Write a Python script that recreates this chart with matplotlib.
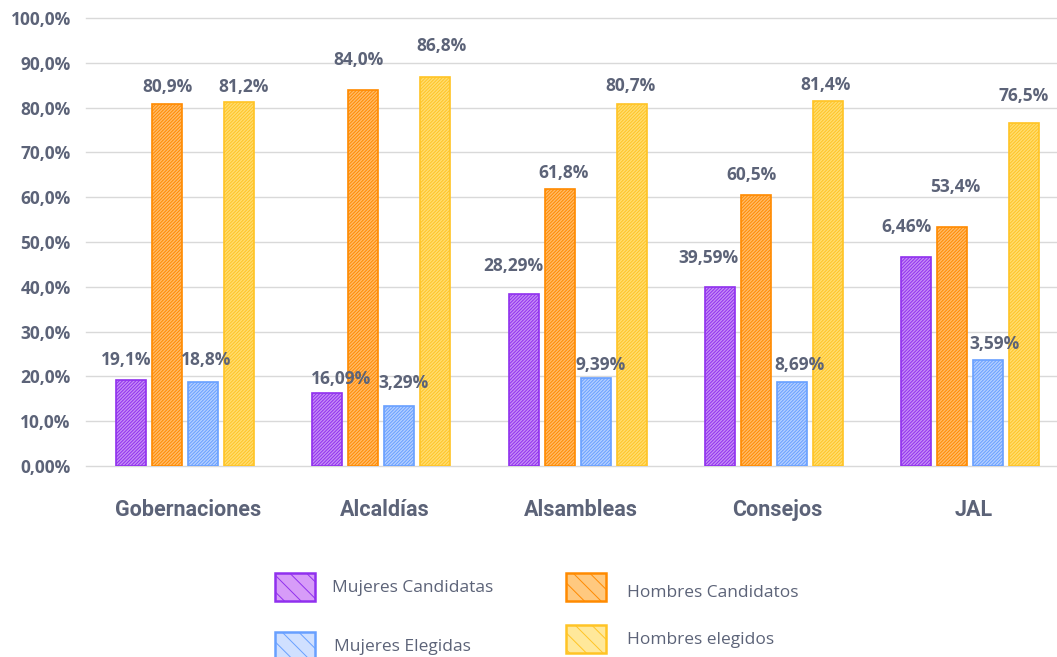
import matplotlib
matplotlib.use("Agg")
import matplotlib.pyplot as plt
from matplotlib.patches import Rectangle
import numpy as np

# ---------------- data ----------------
categories = ["Gobernaciones", "Alcaldías", "Alsambleas", "Consejos", "JAL"]
series_names = ["Mujeres Candidatas", "Hombres Candidatos", "Mujeres Elegidas", "Hombres elegidos"]
mujeres_candidatas = [19.2, 16.2, 38.4, 40.0, 46.7]
hombres_candidatos = [80.9, 84.0, 61.8, 60.6, 53.3]
mujeres_elegidas = [18.8, 13.4, 19.6, 18.8, 23.7]
hombres_elegidos = [81.3, 86.8, 80.8, 81.5, 76.6]

labels_mc = ["19,1%", "16,09%", "28,29%", "39,59%", "6,46%"]
labels_hc = ["80,9%", "84,0%", "61,8%", "60,5%", "53,4%"]
labels_me = ["18,8%", "3,29%", "9,39%", "8,69%", "3,59%"]
labels_he = ["81,2%", "86,8%", "80,7%", "81,4%", "76,5%"]

yticks = [0, 10, 20, 30, 40, 50, 60, 70, 80, 90, 100]
ytick_labels = ["0,00%", "10,0%", "20,0%", "30,0%", "40,0%", "50,0%",
                "60,0%", "70,0%", "80,0%", "90,0%", "100,0%"]

# ---------------- style ----------------
TXT = "#5c6378"
faces = ["#c58cf6", "#ffbb68", "#b3ceff", "#ffdd70"]
edges = ["#9030ee", "#ff8a00", "#68a0ff", "#ffc425"]
legend_faces = ["#d79cf8", "#ffc97f", "#d0e0ff", "#ffe89a"]

# label offsets in pixels (dx, dy) relative to bar top centre
off_mc = [(-5, 20), (14, 14), (-10, 28), (-11, 29), (-10, 30)]
off_hc = [(0, 17), (-5, 30), (4, 16), (-4, 20), (3, 40)]
off_me = [(3, 22), (4, 23), (5, 13), (8, 17), (6, 16)]
off_he = [(4, 15), (6, 31), (-1, 18), (-2, 16), (-1, 27)]

W, H = 1057, 657
fig = plt.figure(figsize=(W / 100, H / 100), dpi=100)
ax = fig.add_axes([86 / W, (H - 466) / H, (W - 86) / W, 448 / H])

x = np.arange(len(categories))
bw = 0.153
step = 0.1836
series = [mujeres_candidatas, hombres_candidatos, mujeres_elegidas, hombres_elegidos]
all_labels = [labels_mc, labels_hc, labels_me, labels_he]
all_offs = [off_mc, off_hc, off_me, off_he]

ax.set_ylim(0, 100)
ax.set_xlim(-0.505, 4.442)
ax.set_yticks(yticks)
ax.set_yticklabels(ytick_labels)
ax.grid(axis="y", color="#d9d9d9", linewidth=1.0, clip_on=False)
ax.set_axisbelow(True)
for s in ax.spines.values():
    s.set_visible(False)
ax.tick_params(axis="y", length=0, pad=11, labelcolor=TXT)
ax.tick_params(axis="x", length=0, pad=24, labelcolor=TXT)
for lab in ax.get_yticklabels():
    lab.set_fontfamily("Open Sans")
    lab.set_fontweight("bold")
    lab.set_fontsize(12.5)

ax.set_xticks(x + 0.015)
ax.set_xticklabels(categories, fontfamily="Roboto", fontweight="bold", fontsize=15.5)

plt.rcParams["hatch.linewidth"] = 0.7
for i, vals in enumerate(series):
    pos = x + (i - 1.5) * step
    bars = ax.bar(pos, vals, width=bw, facecolor=faces[i], edgecolor=edges[i],
                  linewidth=1.2, hatch="//////////", zorder=3)
    for b, lab, (dx, dy) in zip(bars, all_labels[i], all_offs[i]):
        ax.annotate(lab, xy=(b.get_x() + b.get_width() / 2, b.get_height()),
                    xytext=(dx, dy), textcoords="offset pixels",
                    ha="center", va="center", fontsize=12.5,
                    fontfamily="Open Sans", fontweight="bold", color=TXT,
                    annotation_clip=False, zorder=4)

# ---------------- legend ----------------
leg_boxes = [(275, 573), (566, 573), (275, 632), (566, 625)]
leg_text = [(332, 588), (627, 593), (334, 647), (627, 640)]
for i, name in enumerate(series_names):
    px, py = leg_boxes[i]
    r = Rectangle((px / W, 1 - (py + 28) / H), 40 / W, 28 / H,
                  transform=fig.transFigure, facecolor=legend_faces[i],
                  edgecolor=edges[i], linewidth=1.8, hatch="\\\\",
                  clip_on=False)
    fig.add_artist(r)
    tx, ty = leg_text[i]
    fig.text(tx / W, 1 - ty / H, name, ha="left", va="center",
             fontfamily="Open Sans", fontsize=12.5, color=TXT)

fig.savefig("out.png", dpi=100)
